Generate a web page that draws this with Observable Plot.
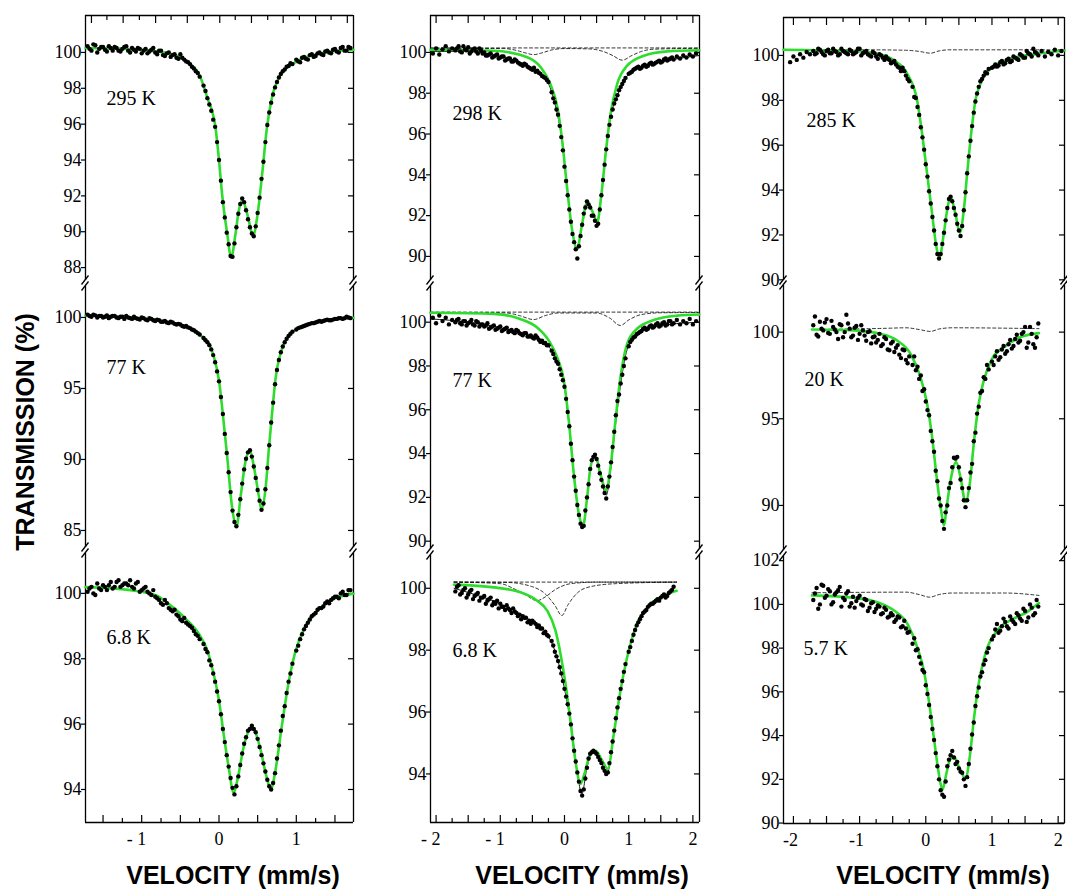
<!DOCTYPE html>
<html><head><meta charset="utf-8">
<script src="https://cdn.jsdelivr.net/npm/d3@7"></script>
<script src="https://cdn.jsdelivr.net/npm/@observablehq/plot@0.6"></script>
<style>
body{margin:0;background:#fff;}
#fig{position:relative;width:1067px;height:890px;overflow:hidden;background:#fff;}
.title{position:absolute;font-family:"Liberation Sans",Arial,sans-serif;font-weight:bold;font-size:25px;white-space:nowrap;color:#000;line-height:1;}
#fig svg text.tick{font-family:"Liberation Serif",serif !important;font-size:18px !important;}
</style></head>
<body><div id="fig"></div>
<script>
// ---------- velocity grids (mm/s) ----------
const vel_A = [-1.70,-1.65,-1.60,-1.55,-1.50,-1.45,-1.40,-1.35,-1.30,-1.25,
-1.20,-1.15,-1.10,-1.05,-1.00,-0.95,-0.90,-0.85,-0.80,-0.75,
-0.70,-0.65,-0.60,-0.55,-0.50,-0.45,-0.40,-0.35,-0.30,-0.25,
-0.200,-0.175,-0.150,-0.125,-0.100,-0.075,-0.050,-0.025,0.000,0.025,
0.050,0.075,0.100,0.125,0.150,0.175,0.200,0.225,0.250,0.275,
0.300,0.325,0.350,0.375,0.400,0.425,0.450,0.475,0.500,0.525,
0.550,0.575,0.600,0.625,0.650,0.675,0.700,0.725,0.750,0.775,
0.800,0.825,0.850,0.875,0.900,0.925,0.950,
1.00,1.05,1.10,1.15,1.20,1.25,1.30,1.35,1.40,1.45,1.50,1.55,1.60,1.65,1.70];
const vel_B_left = [-2.05,-2.00,-1.95,-1.90,-1.85,-1.80,-1.75];
const vel_B_right = [1.75,1.80,1.85,1.90,1.95,2.00,2.05];
const vel_B = [...vel_B_left, ...vel_A, ...vel_B_right];
// interleaved wing channels
const vel_W = [-1.675,-1.625,-1.575,-1.525,-1.475,-1.425,-1.375,-1.325,-1.275,-1.225,
-1.175,-1.125,-1.075,-1.025,-0.975,-0.925,-0.875,-0.825,-0.775,-0.725,
-0.675,-0.625,-0.575,-0.525,-0.475,-0.425,-0.375,-0.325,-0.275,
1.025,1.075,1.125,1.175,1.225,1.275,1.325,1.375,1.425,1.475,1.525,1.575,1.625,1.675];

// ---------- measured transmission (%) ----------
const dots_295K = [100.35,100.1,100.4,100.2,100.3,100.05,100.25,100.3,100.1,100.2,
100.35,100.0,100.15,100.25,99.95,100.2,100.05,100.25,99.9,100.1,
99.8,100.0,99.85,99.7,99.9,99.6,99.45,99.2,98.95,98.65,
98.15,97.85,97.45,97.1,96.75,96.25,95.85,95.0,94.0,92.85,
91.65,90.8,89.95,89.3,88.65,88.6,89.35,90.25,91.0,91.55,
91.85,91.65,91.2,90.7,90.25,89.9,89.75,90.3,91.05,91.9,
92.95,93.9,95.0,95.95,96.65,97.2,97.65,98.05,98.35,98.6,
98.8,98.95,99.05,99.2,99.25,99.4,99.35,
99.6,99.45,99.75,99.6,99.9,99.8,100.0,99.85,100.1,99.95,100.2,100.0,100.3,100.1,100.25];
const wing_295K = [100.2,100.45,100.0,100.3,100.15,100.35,100.1,100.25,100.05,100.3,
100.1,100.25,100.05,100.2,100.1,99.95,100.15,100.0,100.1,99.85,
99.95,99.75,99.9,99.65,99.7,99.5,99.35,99.1,98.85,
99.5,99.7,99.65,99.85,99.75,99.95,99.9,100.05,100.0,100.15,100.05,100.25,100.1,100.3];
const dots_77K_a = [100.2,100.05,100.15,100.1,100.0,100.15,100.05,100.1,99.95,100.05,
100.1,99.95,100.05,99.9,100.0,99.85,99.95,99.8,99.85,99.7,
99.75,99.6,99.65,99.5,99.5,99.35,99.3,99.15,99.0,98.8,
98.55,98.4,98.25,98.05,97.75,97.35,96.85,96.2,95.5,94.4,
93.2,91.8,90.45,89.1,87.7,86.4,85.6,85.3,86.1,87.2,
88.3,89.3,90.05,90.5,90.65,90.2,89.5,88.7,87.85,87.1,
86.45,86.9,87.9,89.4,91.0,92.6,94.0,95.3,96.3,97.0,
97.55,97.95,98.25,98.5,98.7,98.85,99.0,
99.15,99.3,99.4,99.5,99.6,99.65,99.75,99.75,99.85,99.8,99.9,99.95,99.9,100.05,99.95];
const wing_77K_a = [100.1,100.2,100.0,100.1,100.05,99.95,100.1,100.0,100.05,99.9,
100.0,99.9,99.95,99.85,99.95,99.8,99.9,99.75,99.8,99.7,
99.65,99.7,99.55,99.55,99.4,99.4,99.25,99.1,98.9,
99.25,99.35,99.45,99.55,99.6,99.7,99.7,99.8,99.8,99.85,99.9,99.95,99.95,100.0];
const dots_6p8K_a = [100.05,100.2,99.95,100.15,100.25,100.1,100.35,100.2,100.4,100.25,
100.3,100.4,100.15,100.35,100.1,100.2,100.0,100.1,99.85,99.7,
99.8,99.55,99.45,99.35,99.2,99.25,99.05,98.95,98.75,98.6,
98.45,98.3,98.2,97.95,97.8,97.55,97.3,97.0,96.7,96.3,
95.85,95.45,95.05,94.7,94.35,94.05,93.85,94.1,94.4,94.75,
95.1,95.4,95.6,95.8,95.85,95.95,95.85,95.75,95.55,95.3,
95.05,94.8,94.55,94.3,94.1,94.0,94.2,94.5,94.95,95.35,
95.8,96.25,96.55,96.95,97.3,97.55,97.85,
98.25,98.6,98.9,99.1,99.3,99.4,99.55,99.6,99.75,99.8,99.9,99.85,100.05,99.95,100.1];
const wing_6p8K_a = [100.15,100.0,100.3,100.1,100.2,100.25,100.15,100.35,100.2,100.3,
100.25,100.2,100.3,100.05,100.15,100.05,99.95,99.9,99.8,99.65,
99.7,99.5,99.5,99.3,99.15,99.1,99.0,98.85,98.7,
98.4,98.75,99.0,99.2,99.35,99.5,99.55,99.7,99.7,99.85,99.9,100.0,99.95,100.1];
const dots_298K = [99.95,100.2,99.9,100.15,100.3,100.05,100.2,
100.1,100.3,100.0,100.15,100.25,100.05,100.2,99.95,100.1,100.0,
99.85,99.95,99.8,99.9,99.75,99.8,99.65,99.7,99.55,99.6,
99.45,99.35,99.4,99.25,99.15,99.05,99.0,98.85,98.75,98.55,
98.05,97.75,97.55,97.2,96.95,96.4,95.85,95.2,94.4,93.7,
93.0,92.3,91.7,91.1,90.7,90.35,89.9,90.5,91.0,91.55,
92.1,92.4,92.7,92.55,92.4,92.0,92.0,91.75,91.5,91.6,
92.3,93.0,93.75,94.5,95.25,95.9,96.45,96.85,97.2,97.5,
97.7,97.9,98.15,98.3,98.45,98.6,98.75,
98.95,99.05,99.2,99.3,99.25,99.4,99.35,99.5,99.45,99.55,99.5,99.65,99.6,99.7,99.65,
99.8,99.7,99.85,99.75,99.9,99.8,99.95];
const wing_298K = [100.2,100.05,100.3,100.1,99.95,100.15,100.05,100.2,99.95,99.85,
99.9,99.75,99.85,99.7,99.8,99.6,99.7,99.55,99.65,99.5,
99.4,99.45,99.3,99.2,99.25,99.1,98.95,98.8,98.65,
99.0,99.15,99.25,99.2,99.35,99.3,99.45,99.4,99.5,99.6,99.55,99.7,99.65,99.75];
const dots_77K_b = [100.2,99.95,100.3,100.05,100.2,99.9,100.1,
100.0,100.15,99.9,100.05,99.95,100.1,99.85,100.0,99.9,99.8,
99.95,99.75,99.85,99.7,99.8,99.65,99.75,99.6,99.55,99.65,
99.5,99.4,99.5,99.35,99.3,99.4,99.2,99.15,99.05,98.95,
98.7,98.55,98.35,98.2,98.1,97.85,97.6,97.35,97.05,96.5,
95.9,95.25,94.45,93.7,92.95,92.3,91.65,91.2,90.8,90.65,
90.7,91.4,92.0,92.6,93.3,93.7,93.85,93.95,93.75,93.45,
93.1,92.8,92.5,92.2,91.95,92.5,92.95,93.6,94.3,95.0,
95.75,96.4,96.7,97.2,97.6,98.0,98.35,
98.9,99.2,99.35,99.5,99.6,99.75,99.7,99.85,99.8,99.95,99.85,100.0,99.9,100.05,99.95,
100.1,99.9,100.05,99.95,100.15,99.9,100.05];
const wing_77K_b = [100.1,99.95,100.05,99.85,100.0,99.9,100.05,99.8,99.9,99.85,
99.7,99.8,99.65,99.75,99.6,99.7,99.55,99.65,99.5,99.6,
99.45,99.5,99.35,99.4,99.25,99.3,99.1,99.05,98.95,
99.1,99.3,99.45,99.55,99.7,99.65,99.8,99.75,99.9,99.8,99.95,99.85,100.05,99.9];
const dots_6p8K_b = [99.9,100.1,99.85,100.0,99.8,99.95,99.75,99.85,99.7,99.75,
99.6,99.7,99.55,99.6,99.5,99.4,99.45,99.3,99.35,99.2,
99.15,99.1,99.05,98.95,98.95,98.85,98.8,98.7,98.6,98.45,
98.3,98.15,97.95,97.8,97.65,97.45,97.25,97.0,96.75,96.5,
96.25,95.95,95.6,95.15,94.75,94.4,94.05,93.75,93.45,93.3,
93.5,93.85,94.2,94.5,94.65,94.7,94.75,94.7,94.65,94.55,
94.45,94.35,94.2,94.1,94.0,94.05,94.35,94.7,95.05,95.4,
95.8,96.15,96.45,96.75,97.0,97.3,97.55,
97.95,98.3,98.65,98.9,99.1,99.25,99.4,99.5,99.55,99.65,99.7,99.8,99.75,99.9,100.05];
const wing_6p8K_b = [100.05,99.8,99.95,99.7,99.9,99.65,99.8,99.6,99.7,99.5,
99.65,99.45,99.5,99.35,99.4,99.3,99.35,99.2,99.25,99.1,
99.0,99.05,98.9,98.85,98.9,98.75,98.7,98.55,98.5,
98.1,98.5,98.8,99.0,99.2,99.3,99.45,99.5,99.6,99.6,99.75,99.7,99.85,99.95];
const dots_285K = [99.7,99.95,99.8,100.05,99.9,100.15,100.05,
100.2,100.1,100.25,100.05,100.2,100.1,100.3,100.15,100.05,100.2,
100.1,100.25,100.05,100.15,100.3,100.1,100.2,100.0,100.15,99.95,
100.05,99.9,99.95,99.8,99.7,99.6,99.45,99.45,99.1,98.85,
98.6,98.15,98.1,97.7,97.35,96.8,96.35,95.8,95.15,94.6,
93.95,93.4,92.8,92.2,91.6,91.15,90.95,91.15,91.6,92.1,
92.65,93.2,93.6,93.7,93.5,93.2,92.9,92.5,92.2,91.95,
92.4,93.1,93.9,94.75,95.5,96.2,96.85,97.45,97.95,98.3,
98.6,98.85,98.95,99.1,99.25,99.2,99.4,
99.45,99.6,99.55,99.75,99.65,99.85,99.75,99.9,99.8,100.0,99.9,100.1,99.95,100.15,100.0,
100.2,99.95,100.15,100.05,100.25,100.0,100.2];
const wing_285K = [100.05,100.3,100.15,100.0,100.25,100.1,100.2,100.0,100.3,100.15,
100.05,100.2,100.1,100.3,100.0,100.15,100.05,99.95,100.1,99.85,
100.0,99.8,99.85,99.65,99.75,99.5,99.3,99.3,98.95,
99.5,99.5,99.7,99.6,99.8,99.7,99.95,99.85,100.05,99.9,100.2,100.05,100.3,100.1];
const dots_20K = [100.4,99.85,100.6,100.1,100.75,99.9,100.3,100.0,100.45,99.7,
101.0,100.2,99.8,100.35,99.9,100.1,99.5,100.05,99.7,99.4,
99.9,99.3,99.6,98.95,99.45,99.1,98.7,99.0,98.4,98.6,
98.1,98.6,97.8,98.0,97.3,97.5,96.6,96.7,96.0,95.5,
95.2,94.3,93.7,93.1,92.0,91.4,90.4,90.0,89.1,88.65,
89.6,90.0,91.0,91.3,92.2,92.75,92.7,92.8,92.2,91.5,
91.0,90.3,89.9,90.3,91.0,91.9,92.4,93.7,94.2,95.3,
95.7,96.5,96.6,97.4,97.3,98.1,97.85,
98.3,98.6,98.4,99.0,98.75,99.3,99.05,99.6,99.4,99.9,100.3,99.4,99.9,99.1,100.5];
const wing_20K = [100.9,99.75,100.2,100.55,99.95,100.65,100.15,99.6,100.4,100.0,
100.5,99.7,100.25,99.55,100.4,99.8,100.0,99.35,99.75,99.55,
99.2,99.7,99.0,99.35,98.85,99.25,98.5,98.95,98.2,
98.1,98.9,98.55,99.2,98.9,99.55,99.2,99.85,99.5,100.0,99.1,100.3,99.3,99.7];
const dots_5p7K = [100.2,100.75,100.0,100.85,100.4,100.6,100.1,100.55,100.8,100.3,
100.5,99.9,100.35,100.15,100.4,99.95,100.2,99.85,100.1,99.8,
99.9,99.6,99.75,99.45,99.5,99.3,99.4,99.0,98.9,98.75,
98.2,98.45,97.9,97.95,97.6,97.3,97.0,96.9,96.3,95.9,
95.4,94.85,94.3,93.8,93.2,92.6,92.0,91.5,91.3,91.2,
91.9,92.6,92.9,93.1,93.3,93.0,92.7,92.8,92.5,92.35,
92.3,92.0,91.7,92.1,92.7,93.4,94.05,94.6,95.35,95.8,
96.2,96.7,96.9,97.25,97.45,97.8,98.0,
98.4,98.85,98.7,99.0,99.2,98.9,99.3,99.1,99.5,99.25,99.7,99.4,99.85,99.6,99.9];
const wing_5p7K = [100.5,99.8,100.9,100.3,100.7,100.0,100.45,100.65,99.9,100.2,
100.6,100.05,99.85,100.3,100.0,100.25,99.7,100.05,99.65,99.95,
99.55,99.85,99.4,99.6,99.2,99.45,98.95,99.25,98.7,
98.55,99.1,98.8,99.35,99.0,99.45,99.2,99.6,99.35,99.8,99.2,100.0,99.5,100.2];

// ---------- fitted curves [velocity, transmission] ----------
const fit_295K = [[-1.727,100.25],[-1.2,100.2],[-0.9,100.1],[-0.6,99.9],[-0.41,99.46],[-0.24,98.62],[-0.153,97.5],[-0.045,95.8],[0.0,94.0],[0.04,92.1],[0.106,89.9],[0.158,88.55],[0.214,89.9],[0.257,91.2],[0.304,91.75],[0.365,91.0],[0.442,89.8],[0.50,91.0],[0.558,93.2],[0.62,95.8],[0.686,97.5],[0.79,98.7],[0.967,99.4],[1.27,99.9],[1.74,100.15]];
const fit_77K_a = [[-1.727,100.14],[-1.12,100.02],[-0.65,99.67],[-0.41,99.32],[-0.24,98.73],[-0.13,98.15],[-0.065,97.2],[0.0,95.56],[0.04,93.7],[0.106,90.2],[0.17,86.6],[0.226,85.28],[0.279,87.35],[0.344,89.9],[0.40,90.63],[0.452,89.46],[0.518,87.35],[0.55,86.45],[0.604,88.05],[0.647,90.87],[0.69,93.45],[0.734,95.8],[0.8,97.56],[0.887,98.6],[1.06,99.32],[1.32,99.74],[1.74,99.98]];
const fit_6p8K_a = [[-1.727,100.19],[-1.12,100.09],[-0.81,99.94],[-0.6,99.58],[-0.43,99.22],[-0.26,98.76],[-0.15,98.25],[-0.07,97.54],[0.0,96.72],[0.06,95.7],[0.125,94.68],[0.19,93.9],[0.245,94.37],[0.318,95.29],[0.426,95.91],[0.53,95.29],[0.617,94.37],[0.67,94.0],[0.73,94.58],[0.81,95.9],[0.897,97.23],[0.98,98.15],[1.11,98.97],[1.28,99.48],[1.45,99.79],[1.74,99.99]];
const fit_298K = [[-2.087,100.13],[-1.1,100.08],[-0.58,99.76],[-0.37,99.27],[-0.22,98.45],[-0.11,97.3],[-0.036,95.68],[0.04,93.39],[0.12,91.27],[0.197,90.38],[0.275,91.6],[0.353,92.66],[0.43,92.25],[0.51,91.68],[0.57,92.9],[0.64,95.0],[0.717,96.98],[0.82,98.45],[0.976,99.35],[1.236,99.84],[1.6,100.05],[2.1,100.11]];
const total_298K = [[-2.087,100.05],[-1.5,100.05],[-1.0,99.8],[-0.6,99.4],[-0.3,98.75],[-0.15,97.5],[-0.036,95.6],[0.04,93.35],[0.12,91.25],[0.197,90.3],[0.275,91.55],[0.353,92.6],[0.43,92.2],[0.51,91.6],[0.57,92.85],[0.64,95.1],[0.717,96.8],[0.82,97.85],[0.976,98.85],[1.2,99.3],[1.6,99.6],[2.1,99.85]];
const base_298K = [[-2.087,100.22],[2.1,100.22]];
const comp_298K = [[-2.087,100.2],[-0.95,100.19],[-0.75,100.1],[-0.6,99.97],[-0.48,99.89],[-0.36,99.97],[-0.2,100.12],[0.0,100.19],[0.4,100.17],[0.6,100.05],[0.75,99.85],[0.9,99.62],[1.05,99.85],[1.2,100.05],[1.4,100.16],[2.1,100.2]];
const fit_77K_b = [[-2.087,100.43],[-1.1,100.38],[-0.69,100.15],[-0.43,99.77],[-0.244,99.16],[-0.114,98.4],[-0.01,97.34],[0.067,95.51],[0.145,93.07],[0.223,91.25],[0.29,90.72],[0.353,92.0],[0.405,93.38],[0.478,93.91],[0.56,93.07],[0.65,92.31],[0.717,93.38],[0.794,95.51],[0.872,97.49],[0.976,99.01],[1.13,99.7],[1.39,100.1],[1.755,100.3],[2.1,100.35]];
const total_77K_b = [[-2.087,100.15],[-1.5,100.0],[-1.0,99.75],[-0.6,99.45],[-0.3,99.05],[-0.114,98.2],[-0.01,97.2],[0.067,95.4],[0.145,93.0],[0.223,91.2],[0.29,90.68],[0.353,92.0],[0.405,93.35],[0.478,93.9],[0.56,93.0],[0.65,92.1],[0.717,93.2],[0.794,95.3],[0.872,97.1],[0.976,98.75],[1.13,99.4],[1.4,99.8],[2.1,100.0]];
const base_77K_b = [[-2.087,100.46],[2.1,100.46]];
const comp_77K_b = [[-2.087,100.44],[-0.9,100.42],[-0.7,100.3],[-0.48,100.12],[-0.3,100.3],[-0.1,100.42],[0.5,100.42],[0.7,100.2],[0.87,99.85],[1.0,100.1],[1.2,100.35],[1.5,100.43],[2.1,100.44]];
const fit_6p8K_b = [[-1.72,100.12],[-1.1,100.03],[-0.685,99.87],[-0.426,99.6],[-0.27,99.28],[-0.14,98.63],[-0.062,97.88],[0.016,96.91],[0.093,95.72],[0.17,94.43],[0.25,93.68],[0.31,94.0],[0.405,94.65],[0.488,94.75],[0.587,94.43],[0.675,94.16],[0.768,95.29],[0.872,96.69],[0.976,97.77],[1.13,98.85],[1.34,99.49],[1.547,99.76],[1.745,99.92]];
const total_6p8K_b = [[-1.72,100.0],[-1.4,99.8],[-1.0,99.5],[-0.6,99.05],[-0.3,98.6],[-0.1,97.65],[0.0,96.75],[0.1,95.6],[0.2,94.05],[0.27,93.35],[0.35,94.2],[0.45,94.75],[0.55,94.45],[0.67,94.05],[0.768,95.29],[0.872,96.69],[0.976,97.77],[1.13,98.85],[1.34,99.49],[1.547,99.76],[1.745,99.92]];
const base_6p8K_b = [[-1.72,100.2],[1.745,100.2]];
const compA_6p8K_b = [[-1.72,100.2],[-1.0,100.15],[-0.8,100.0],[-0.6,99.78],[-0.43,99.6],[-0.3,99.72],[-0.15,99.95],[0.1,100.15],[0.5,100.2],[1.745,100.2]];
const compB_6p8K_b = [[-1.72,100.2],[-0.9,100.19],[-0.5,100.05],[-0.3,99.82],[-0.15,99.45],[-0.04,99.12],[0.05,99.45],[0.2,99.85],[0.4,100.05],[0.8,100.15],[1.745,100.2]];
const fit_285K = [[-2.15,100.25],[-1.09,100.19],[-0.735,100.07],[-0.48,99.78],[-0.28,99.18],[-0.13,97.99],[-0.055,96.5],[0.02,94.73],[0.096,92.94],[0.16,91.46],[0.207,91.0],[0.272,92.05],[0.322,93.09],[0.373,93.69],[0.448,92.94],[0.514,92.1],[0.574,93.09],[0.625,94.73],[0.685,96.5],[0.75,97.99],[0.826,98.74],[0.977,99.41],[1.28,99.85],[1.68,100.07],[2.096,100.22]];
const comp_285K = [[-2.15,100.25],[-0.9,100.25],[-0.3,100.23],[-0.1,100.18],[0.07,100.1],[0.2,100.2],[0.35,100.25],[2.096,100.25]];
const fit_20K = [[-1.72,100.15],[-1.09,100.1],[-0.685,99.9],[-0.433,99.52],[-0.23,98.75],[-0.08,97.4],[0.02,95.87],[0.096,93.94],[0.17,91.44],[0.232,89.71],[0.272,88.85],[0.322,90.1],[0.383,91.63],[0.458,92.5],[0.524,91.63],[0.6,90.2],[0.665,91.25],[0.725,93.56],[0.80,95.87],[0.877,97.21],[1.0,98.46],[1.18,99.13],[1.43,99.71],[1.71,99.94]];
const comp_20K = [[-1.72,100.15],[-0.6,100.22],[-0.3,100.25],[-0.1,100.15],[0.07,100.04],[0.2,100.18],[0.4,100.25],[1.71,100.2]];
const fit_5p7K = [[-1.72,100.41],[-1.09,100.3],[-0.735,100.1],[-0.484,99.73],[-0.28,99.12],[-0.13,98.05],[-0.03,96.99],[0.045,95.62],[0.12,93.95],[0.196,92.28],[0.252,91.52],[0.302,92.13],[0.363,92.89],[0.423,93.04],[0.499,92.58],[0.6,92.05],[0.665,93.04],[0.725,94.71],[0.8,96.38],[0.9,97.75],[1.08,98.81],[1.33,99.35],[1.53,99.65],[1.71,100.06]];
const comp_5p7K = [[-1.72,100.53],[-0.3,100.56],[-0.1,100.45],[0.06,100.33],[0.2,100.45],[0.4,100.52],[1.2,100.52],[1.71,100.41]];

// ---------- labels & ticks ----------
const temperatures = [["295 K","77 K","6.8 K"],["298 K","77 K","6.8 K"],["285 K","20 K","5.7 K"]];
const yTicks_col1 = [[88,90,92,94,96,98,100],[85,90,95,100],[94,96,98,100]];
const yTicks_col2 = [[90,92,94,96,98,100],[90,92,94,96,98,100],[94,96,98,100]];
const yTicks_col3 = [[90,92,94,96,98,100],[90,95,100],[90,92,94,96,98,100,102]];
const xTopMajor_col1 = [-1.65,-1.24,-0.82,-0.41,0.01,0.42,0.83,1.25,1.66];
const xTopMinor_col1 = [-1.45,-1.03,-0.62,-0.20,0.21,0.63,1.04,1.45];
const xMajor_col1 = [-1.5,-1,-0.5,0,0.5,1,1.5];
const xMinor_col1 = [-1.25,-0.75,-0.25,0.25,0.75,1.25];
const xMajor_wide = [-2,-1.5,-1,-0.5,0,0.5,1,1.5,2];
const xMinor_wide = [-1.75,-1.25,-0.75,-0.25,0.25,0.75,1.25,1.75];
const xLabelVals_col1 = [-1,0,1];
const xLabelText_col1 = ["- 1","0","1"];
const xLabelVals_col2 = [-2,-1,0,1,2];
const xLabelText_col2 = ["- 2","- 1","0","1","2"];
const xLabelText_col3 = ["-2","-1","0","1","2"];

// ---------- layout (pixels / domains) ----------
const cols = [
  {x0:85, x1:353, xd:[-1.727,1.74], topMajor:xTopMajor_col1, topMinor:xTopMinor_col1, botMajor:xMajor_col1, botMinor:xMinor_col1, lv:xLabelVals_col1, lt:xLabelText_col1, title:233},
  {x0:430, x1:699, xd:[-2.087,2.103], topMajor:xMajor_wide, topMinor:xMinor_wide, botMajor:xMajor_wide, botMinor:xMinor_wide, lv:xLabelVals_col2, lt:xLabelText_col2, title:582},
  {x0:783, x1:1064, xd:[-2.15,2.096], topMajor:xMajor_wide, topMinor:xMinor_wide, botMajor:xMajor_wide, botMinor:xMinor_wide, lv:xLabelVals_col2, lt:xLabelText_col3, title:943}
];
const panels = [
  {col:0,row:0,y0:15,y1:280,yd:[87.28,102.06],yt:yTicks_col1[0],vel:vel_A,dots:dots_295K,wing:wing_295K,fit:fit_295K,dash:[],total:null,ldx:21,ldy:83},
  {col:0,row:1,y0:286,y1:547,yd:[83.80,102.18],yt:yTicks_col1[1],vel:vel_A,dots:dots_77K_a,wing:wing_77K_a,fit:fit_77K_a,dash:[],total:null,ldx:21,ldy:81},
  {col:0,row:2,y0:553,y1:822,yd:[92.99,101.22],yt:yTicks_col1[2],vel:vel_A,dots:dots_6p8K_a,wing:wing_6p8K_a,fit:fit_6p8K_a,dash:[],total:null,ldx:21,ldy:84},
  {col:1,row:0,y0:15,y1:280,yd:[88.82,101.81],yt:yTicks_col2[0],vel:vel_B,dots:dots_298K,wing:wing_298K,fit:fit_298K,dash:[base_298K,comp_298K],total:total_298K,ldx:22,ldy:98},
  {col:1,row:1,y0:286,y1:549,yd:[89.62,101.63],yt:yTicks_col2[1],vel:vel_B,dots:dots_77K_b,wing:wing_77K_b,fit:fit_77K_b,dash:[base_77K_b,comp_77K_b],total:total_77K_b,ldx:22,ldy:94},
  {col:1,row:2,y0:555,y1:822,yd:[92.43,101.06],yt:yTicks_col2[2],vel:vel_A,dots:dots_6p8K_b,wing:wing_6p8K_b,fit:fit_6p8K_b,dash:[base_6p8K_b,compA_6p8K_b,compB_6p8K_b],total:total_6p8K_b,ldx:22,ldy:95},
  {col:2,row:0,y0:17,y1:280,yd:[89.97,101.69],yt:yTicks_col3[0],vel:vel_B,dots:dots_285K,wing:wing_285K,fit:fit_285K,dash:[comp_285K],total:null,ldx:23,ldy:103},
  {col:2,row:1,y0:285,y1:550,yd:[87.40,102.69],yt:yTicks_col3[1],vel:vel_A,dots:dots_20K,wing:wing_20K,fit:fit_20K,dash:[comp_20K],total:null,ldx:21,ldy:94},
  {col:2,row:2,y0:556,y1:823,yd:[89.98,102.19],yt:yTicks_col3[2],vel:vel_A,dots:dots_5p7K,wing:wing_5p7K,fit:fit_5p7K,dash:[comp_5p7K],total:null,ldx:20,ldy:92}
];

const GREEN = "#2edc2e";
const fig = document.getElementById("fig");
const serif = "Liberation Serif";

function drawPanel(p) {
  const c = cols[p.col];
  const ML = 52, MR = 14, MT = 12, MB = p.row === 2 ? 42 : 12;
  const W = (c.x1 - c.x0) + ML + MR, H = (p.y1 - p.y0) + MT + MB;
  const frame = {stroke: "#000", strokeWidth: 1.3};
  const marks = [Plot.ruleX(c.xd, frame)];
  if (p.row === 0) marks.push(Plot.ruleY([p.yd[1]], frame));
  if (p.row === 2) marks.push(Plot.ruleY([p.yd[0]], frame));
  marks.push(
    Plot.axisY(p.yt, {anchor: "left", tickSize: 4, fill: "none", label: null, strokeWidth: 1.2}),
    Plot.axisY(p.yt, {anchor: "right", tickSize: 6, dx: -6, fill: "none", label: null, strokeWidth: 1.2}),
    Plot.text(p.yt, {y: d => d, frameAnchor: "left", dx: -4, textAnchor: "end", lineAnchor: "middle", text: d => String(d), fontSize: 18, fontFamily: serif, fill: "#000", className: "tick"})
  );
  if (p.row === 0) {
    marks.push(Plot.axisX(c.topMajor, {anchor: "top", tickSize: 7, dy: 7, fill: "none", label: null, strokeWidth: 1.2}));
    marks.push(Plot.axisX(c.topMinor, {anchor: "top", tickSize: 4, dy: 4, fill: "none", label: null, strokeWidth: 1.2}));
  }
  if (p.row === 2) {
    marks.push(Plot.axisX(c.botMajor, {anchor: "bottom", tickSize: 7, dy: -7, fill: "none", label: null, strokeWidth: 1.2}));
    marks.push(Plot.axisX(c.botMinor, {anchor: "bottom", tickSize: 4, dy: -4, fill: "none", label: null, strokeWidth: 1.2}));
    marks.push(Plot.text(c.lv, {x: d => d, frameAnchor: "bottom", dy: 17, dx: 4.5, textAnchor: "end", lineAnchor: "middle", text: d => c.lt[c.lv.indexOf(d)], fontSize: 18, fontFamily: serif, fill: "#000", className: "tick"}));
  }
  for (const d of p.dash) {
    marks.push(Plot.line(d, {x: d => d[0], y: d => d[1], stroke: "#000", strokeWidth: 0.8, strokeDasharray: "3,2.5", curve: "monotone-x"}));
  }
  if (p.total) marks.push(Plot.line(p.total, {x: d => d[0], y: d => d[1], stroke: "#000", strokeWidth: 0.9, curve: "monotone-x"}));
  marks.push(Plot.line(p.fit, {x: d => d[0], y: d => d[1], stroke: GREEN, strokeWidth: 2.6, curve: "monotone-x"}));
  const pts = p.vel.map((v, i) => [v, p.dots[i]]).concat(vel_W.map((v, i) => [v, p.wing[i]]));
  marks.push(Plot.dot(pts, {x: d => d[0], y: d => d[1], r: 2.2, fill: "#000", stroke: null}));
  marks.push(Plot.text([temperatures[p.col][p.row]], {frameAnchor: "top-left", text: d => d, dx: p.ldx, dy: p.ldy, textAnchor: "start", lineAnchor: "middle", fontSize: 20, fontFamily: serif, fill: "#000"}));

  const svg = Plot.plot({
    width: W, height: H,
    marginLeft: ML, marginRight: MR, marginTop: MT, marginBottom: MB,
    x: {domain: c.xd, axis: null},
    y: {domain: p.yd, axis: null},
    style: {fontFamily: serif, fontSize: "18px", color: "#000", background: "none", overflow: "visible"},
    marks
  });
  // axis break marks
  const g = d3.select(svg).append("g").attr("stroke", "#000").attr("stroke-width", 1.3).attr("fill", "none");
  const L = ML, R = W - MR, T = MT, B = H - MB;
  const ys = [];
  if (p.row > 0) ys.push(T);
  if (p.row < 2) ys.push(B);
  for (const y of ys) for (const x of [L, R]) g.append("path").attr("d", `M${x-3.5},${y+4.5}L${x+3.5},${y-4.5}`);
  // make sure tick labels use the serif face
  d3.select(svg).selectAll("g.tick text, g.tick").attr("font-family", serif).attr("font-size", 18);
  svg.style.position = "absolute";
  svg.style.left = (c.x0 - ML) + "px";
  svg.style.top = (p.y0 - MT) + "px";
  svg.style.maxWidth = "none";
  fig.appendChild(svg);
}
panels.forEach(drawPanel);

// titles
const ytitle = document.createElement("div");
ytitle.className = "title";
ytitle.textContent = "TRANSMISSION (%)";
ytitle.style.left = "25px"; ytitle.style.top = "432px";
ytitle.style.transform = "translate(-50%,-50%) rotate(-90deg)";
fig.appendChild(ytitle);
for (const c of cols) {
  const t = document.createElement("div");
  t.className = "title";
  t.textContent = "VELOCITY (mm/s)";
  t.style.left = c.title + "px"; t.style.top = "875px";
  t.style.transform = "translate(-50%,-50%)";
  fig.appendChild(t);
}
</script>
</body></html>
